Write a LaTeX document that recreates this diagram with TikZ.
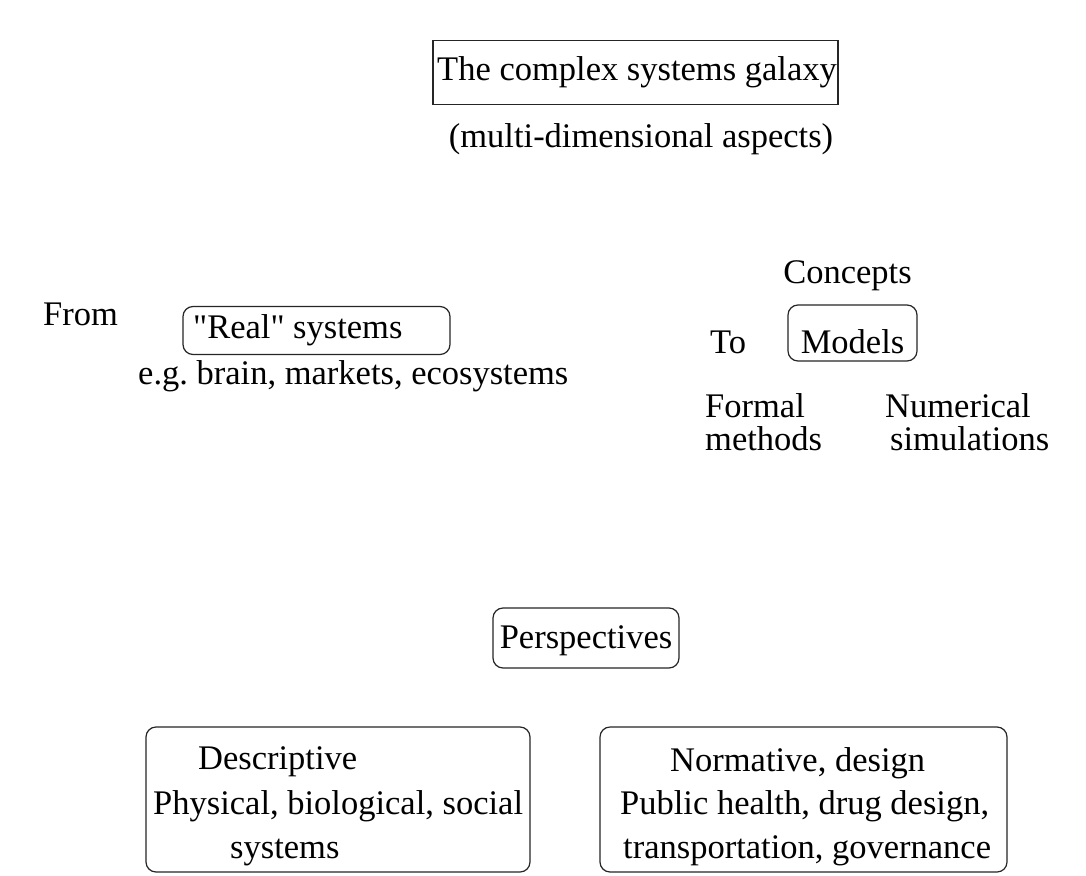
\documentclass[tikz,border=0pt]{standalone}
\usepackage{fontspec}
\setmainfont{Liberation Serif}[Ligatures=TeXOff]
\begin{document}
\frenchspacing
\begin{tikzpicture}[x=1pt,y=-1pt,
  font=\fontsize{34.5}{41}\selectfont,
  sqbox/.style={draw=black!85, line width=1.2pt, inner sep=0pt},
  rbox/.style={draw=black!85, line width=1.2pt, inner sep=0pt, rounded corners=10pt},
  lbl/.style={inner sep=0pt, anchor=base west},
  clbl/.style={inner sep=0pt, anchor=base}]
\useasboundingbox[fill=white] (0,0) rectangle (1086,875);

% title
\node[sqbox, minimum width=405pt, minimum height=64pt] (titlebox) at (635.5,72.5) {};
\node[clbl] (title) at (637,80) {The complex systems galaxy};
\node[clbl] (multi) at (641,147) {(multi-dimensional aspects)};

% From real systems
\node[lbl] (from) at (43,325) {From};
\node[rbox, minimum width=267pt, minimum height=48pt] (realbox) at (316.5,330.5) {};
\node[lbl] (real) at (193,338) {"Real" systems};
\node[lbl] (eg) at (138,384) {e.g. brain, markets, ecosystems};

% To models
\node[clbl] (concepts) at (847.5,283) {Concepts};
\node[lbl] (to) at (710,353) {To};
\node[rbox, minimum width=129pt, minimum height=56pt] (modelbox) at (852.5,333) {};
\node[clbl] (models) at (852.5,353) {Models};
\node[lbl] (formal) at (705,417) {Formal};
\node[lbl] (methods) at (705,450) {methods};
\node[lbl] (numerical) at (885,417) {Numerical};
\node[lbl] (simulations) at (890,450) {simulations};

% Perspectives
\node[rbox, minimum width=186pt, minimum height=60pt] (perspbox) at (586,638) {};
\node[clbl] (persp) at (586,648) {Perspectives};

% Descriptive
\node[rbox, minimum width=384pt, minimum height=145pt] (descbox) at (338,799.5) {};
\node[lbl] (desc) at (198,769) {Descriptive};
\node[lbl] (phys) at (153,814) {Physical, biological, social};
\node[lbl] (sys) at (230,858) {systems};

% Normative
\node[rbox, minimum width=407pt, minimum height=145pt] (normbox) at (803.5,799.5) {};
\node[lbl] (norm) at (670,771) {Normative, design};
\node[lbl] (pub) at (620,814) {Public health, drug design,};
\node[lbl] (trans) at (623,858) {transportation, governance};
\end{tikzpicture}
\end{document}
